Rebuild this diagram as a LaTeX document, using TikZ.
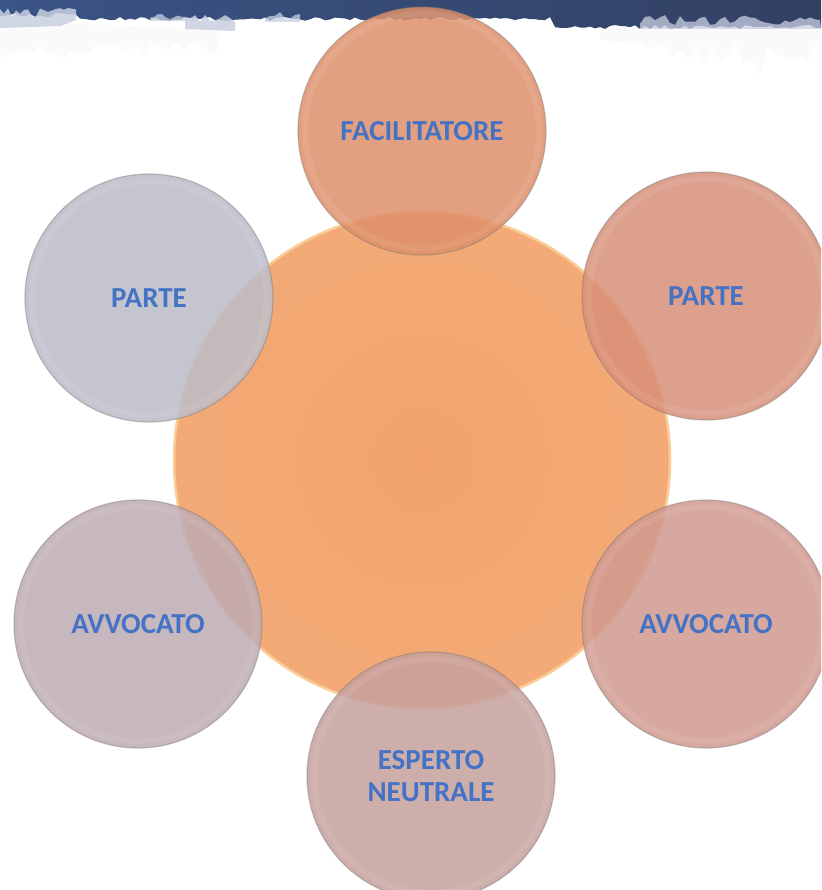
\documentclass[tikz,border=0pt]{standalone}
\usepackage{fontspec}
\setmainfont{Carlito}
\definecolor{bandA}{RGB}{58,84,134}
\definecolor{bandB}{RGB}{50,64,98}
\definecolor{wisp}{RGB}{200,207,224}
\definecolor{txtblue}{RGB}{68,114,196}
\definecolor{cenIn}{RGB}{242,163,110}
\definecolor{cenOut}{RGB}{243,170,118}
\definecolor{cenRim}{RGB}{250,205,150}
\definecolor{cTop}{RGB}{222,144,106}
\definecolor{cPartR}{RGB}{216,144,121}
\definecolor{cPartL}{RGB}{188,188,200}
\definecolor{cAvvL}{RGB}{190,171,179}
\definecolor{cAvvR}{RGB}{208,153,143}
\definecolor{cEsp}{RGB}{198,160,157}
\tikzset{
  smallc/.style={circle, minimum size=248pt, inner sep=0pt, fill opacity=0.85,
    draw=black!55, draw opacity=0.4, line width=1.2pt, text opacity=1,
    font=\bfseries\fontsize{29}{32}\selectfont, text=txtblue, align=center},
  bevel/.style={draw=white, line width=6pt, opacity=0.08}
}
\begin{document}
\begin{tikzpicture}[x=1pt,y=-1pt]
\useasboundingbox (0,0) rectangle (821,890);
\clip (0,0) rectangle (821,890);
\fill[white] (0,0) rectangle (821,890);
% faint textured strip below the band
\pgfmathsetseed{11}
\fill[black!3, opacity=0.5] (0,20) foreach \x in {0,8,...,220} { -- (\x,{42+18*rnd}) } -- (220,30) -- cycle;
\fill[black!3, opacity=0.5] (600,20) foreach \x in {600,608,...,821} { -- (\x,{40+60*rnd*(\x-600)/221}) } -- (821,30) -- cycle;
% top dark band with ragged edge
\shade[left color=bandA, right color=bandB]
  (0,0) -- (0,16) foreach \x in {5,10,...,75} { -- (\x,{13+4*rnd}) }
  foreach \x in {80,85,...,550} { -- (\x,{17+4*rnd}) }
  foreach \x in {555,560,...,816} { -- (\x,{25+4*rnd}) } -- (821,28) -- (821,0) -- cycle;
% light wisps along the band edge
\fill[wisp, opacity=0.85] (0,28) foreach \x in {0,4,...,76} { -- (\x,{8+9*rnd}) } -- (76,20) -- (60,26) -- cycle;
\fill[wisp, opacity=0.85] (185,25) foreach \x in {185,190,...,235} { -- (\x,{15+7*rnd}) } -- (235,31) -- (185,29) -- cycle;
\fill[wisp, opacity=0.75] (150,21) foreach \x in {150,154,...,195} { -- (\x,{14+6*rnd}) } -- (195,21) -- cycle;
\fill[wisp, opacity=0.75] (265,22) foreach \x in {265,270,...,300} { -- (\x,{12+8*rnd}) } -- (300,22) -- cycle;
\fill[wisp, opacity=0.75] (640,29) foreach \x in {640,645,...,821} { -- (\x,{15+10*rnd}) } -- (821,29) -- cycle;
% central circle
\node[circle, minimum size=496pt, inner sep=0pt, inner color=cenIn, outer color=cenOut,
      draw=cenRim, line width=2.5pt] (centro) at (422,460) {};
% surrounding circles
\node[smallc, fill=cTop]   (facil)  at (422,131) {FACILITATORE};
\node[smallc, fill=cPartL] (parteL) at (149,298) {PARTE};
\node[smallc, fill=cPartR] (parteR) at (706,296) {PARTE};
\node[smallc, fill=cAvvL]  (avvL)   at (138,624) {AVVOCATO};
\node[smallc, fill=cAvvR]  (avvR)   at (706,624) {AVVOCATO};
\node[smallc, fill=cEsp]   (esp)    at (431,776) {ESPERTO\\NEUTRALE};
\foreach \n in {facil,parteL,parteR,avvL,avvR,esp}
  \draw[bevel] (\n.center) circle (117pt);
\end{tikzpicture}
\end{document}
